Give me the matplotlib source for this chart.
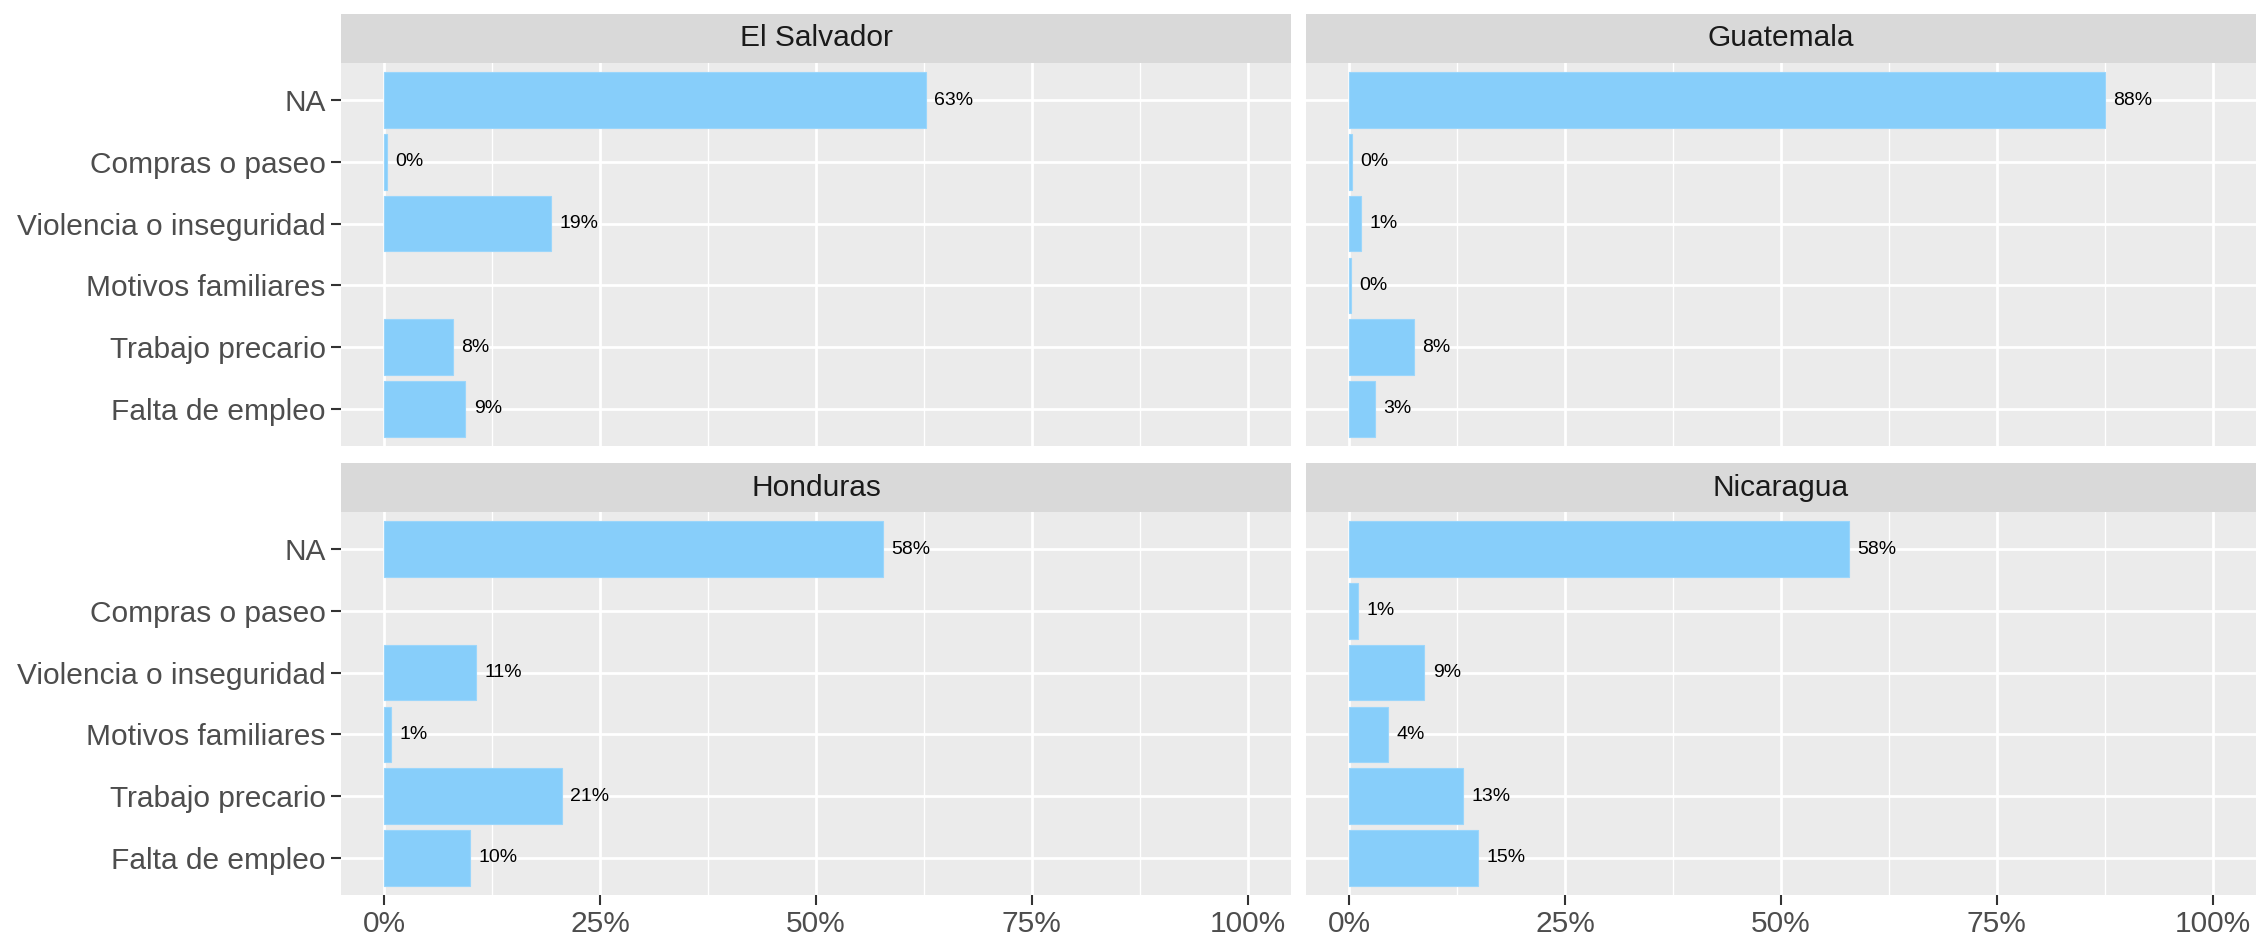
import numpy as np
import matplotlib
matplotlib.use("Agg")
import matplotlib.pyplot as plt
from matplotlib.ticker import MultipleLocator

plt.rcParams['font.family'] = ['Liberation Sans', 'DejaVu Sans']

# categories, bottom to top
categories = ["Falta de empleo", "Trabajo precario", "Motivos familiares",
              "Violencia o inseguridad", "Compras o paseo", "NA"]
countries = ["El Salvador", "Guatemala", "Honduras", "Nicaragua"]

# shares (same order as categories); NaN = no bar
el_salvador = [0.094, 0.080, np.nan, 0.193, 0.003, 0.627]
guatemala = [0.030, 0.075, 0.002, 0.014, 0.003, 0.875]
honduras = [0.099, 0.206, 0.008, 0.106, np.nan, 0.578]
nicaragua = [0.149, 0.132, 0.045, 0.087, 0.010, 0.579]

x_ticks = [0, 0.25, 0.5, 0.75, 1.0]
x_ticklabels = ["0%", "25%", "50%", "75%", "100%"]

bar_color = "#87CEFA"
panel_bg = "#EBEBEB"
strip_bg = "#D9D9D9"

fig = plt.figure(figsize=(22.56, 9.4), dpi=100)

# panel boxes: [left, bottom, width, height] (figure fraction)
left_x, right_x = 341 / 2256, 1306 / 2256
panel_w = 950 / 2256
top_y, bot_y = 1 - 446 / 940, 1 - 895 / 940
panel_h = 383 / 940
strip_h = 49 / 940

boxes = [(left_x, top_y), (right_x, top_y), (left_x, bot_y), (right_x, bot_y)]
data = [el_salvador, guatemala, honduras, nicaragua]

ypos = np.arange(1, len(categories) + 1)

for i, (country, vals) in enumerate(zip(countries, data)):
    x0, y0 = boxes[i]
    ax = fig.add_axes([x0, y0, panel_w, panel_h])
    ax.set_facecolor(panel_bg)
    vals = np.array(vals, dtype=float)

    ax.set_xlim(-0.05, 1.05)
    ax.set_ylim(0.4, len(categories) + 0.6)
    ax.xaxis.set_major_locator(MultipleLocator(0.25))
    ax.xaxis.set_minor_locator(MultipleLocator(0.125))
    ax.grid(which="major", color="white", linewidth=2.0)
    ax.grid(which="minor", axis="x", color="white", linewidth=1.0)
    ax.set_axisbelow(True)

    mask = ~np.isnan(vals)
    ax.barh(ypos[mask], vals[mask], height=0.9, color=bar_color,
            edgecolor="#9BD6FB", linewidth=0.8)
    for y, v in zip(ypos[mask], vals[mask]):
        ax.annotate(f"{round(v * 100)}%", xy=(v, y), xytext=(6, 0),
                    textcoords="offset points", va="center", ha="left",
                    fontsize=14, color="black")

    for s in ax.spines.values():
        s.set_visible(False)

    ax.set_yticks(ypos)
    ax.set_xticks(x_ticks)
    ax.tick_params(which="minor", length=0)
    ax.tick_params(which="major", length=7, width=1.5, color="#333333",
                   labelsize=21.5, labelcolor="#4D4D4D", pad=4)
    if i % 2 == 0:
        ax.set_yticklabels(categories)
    else:
        ax.tick_params(axis="y", length=0, labelleft=False)
    if i >= 2:
        ax.set_xticklabels(x_ticklabels)
    else:
        ax.tick_params(axis="x", length=0, labelbottom=False)

    # facet strip
    sax = fig.add_axes([x0, y0 + panel_h, panel_w, strip_h])
    sax.set_facecolor(strip_bg)
    sax.set_xticks([])
    sax.set_yticks([])
    for s in sax.spines.values():
        s.set_visible(False)
    sax.text(0.5, 0.5, country, ha="center", va="center", fontsize=21.5,
             color="#1A1A1A", transform=sax.transAxes)

fig.savefig("out.png", dpi=100, facecolor="white")
